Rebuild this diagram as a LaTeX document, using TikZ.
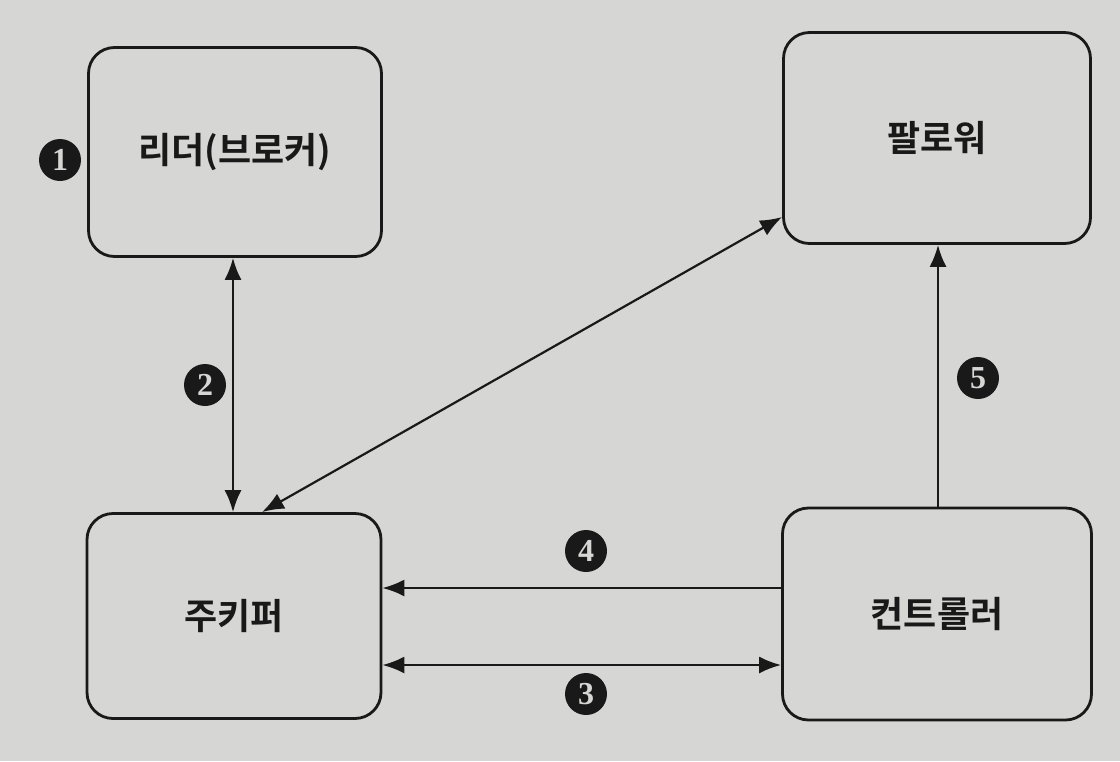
\documentclass[tikz,border=0pt]{standalone}
\usepackage{fontspec}
\newfontfamily\kr{Noto Sans CJK KR}[BoldFont={* Bold}]
\newfontfamily\numfont{Liberation Serif}
\usetikzlibrary{arrows.meta}
\definecolor{paper}{RGB}{214,214,212}
\definecolor{ink}{RGB}{25,25,25}
\begin{document}
\begin{tikzpicture}[x=1pt,y=-1pt,
  box/.style={draw=ink,line width=2.8pt,rounded corners=26pt,fill=paper,
    font=\kr\bfseries\fontsize{36}{40}\selectfont,text=ink},
  num/.style={circle,fill=ink,text=paper,inner sep=0pt,minimum size=42pt,
    font=\numfont\bfseries\fontsize{32}{32}\selectfont},
  conn/.style={draw=ink,line width=2.2pt,-{Latex[length=22pt,width=17pt]}},
  bconn/.style={draw=ink,line width=2.2pt,{Latex[length=22pt,width=17pt]}-{Latex[length=22pt,width=17pt]}}]
\fill[paper] (0,0) rectangle (1120,761);
\useasboundingbox (0,0) rectangle (1120,761);
\node[box,minimum width=293pt,minimum height=209pt] (leader) at (235,152) {리더(브로커)};
\node[box,minimum width=307pt,minimum height=211pt] (follower) at (937,138) {팔로워};
\node[box,minimum width=294pt,minimum height=205pt] (zk) at (234,616) {주키퍼};
\node[box,minimum width=309pt,minimum height=212pt] (ctrl) at (937,614) {컨트롤러};
\node[num] (n1) at (60,160) {1};
\node[num] (n2) at (205,385) {2};
\node[num] (n4) at (586,551) {4};
\node[num] (n3) at (586,694) {3};
\node[num] (n5) at (978,378) {5};
\draw[bconn] (leader.south -| 233,0) -- (zk.north -| 233,0);
\draw[bconn] (zk.north -| 262,0) -- (follower.west |- 0,217);
\draw[conn] (ctrl.west |- 0,588) -- (zk.east |- 0,588);
\draw[bconn] (zk.east |- 0,665) -- (ctrl.west |- 0,665);
\draw[conn] (ctrl.north -| 938,0) -- (follower.south -| 938,0);
\end{tikzpicture}
\end{document}
